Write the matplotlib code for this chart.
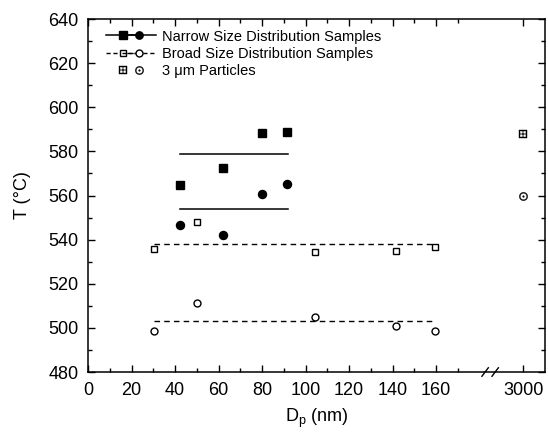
import numpy as np
import matplotlib
matplotlib.use("Agg")
import matplotlib.pyplot as plt
from matplotlib.legend_handler import HandlerTuple
from matplotlib.ticker import FixedLocator

plt.rcParams['font.family'] = ['Liberation Sans', 'DejaVu Sans']
plt.rcParams['mathtext.default'] = 'regular'

# narrow size distribution samples
narrow_d = [42.2, 62.2, 80.1, 91.5]
narrow_sq = [564.8, 572.3, 588.2, 588.8]
narrow_ci = [546.6, 542.2, 560.8, 565.3]
narrow_span = [42.2, 91.7]
narrow_sq_mean = 578.6
narrow_ci_mean = 553.8

# broad size distribution samples
broad_d = [30.2, 50.3, 104.5, 141.5, 159.4]
broad_sq = [535.6, 547.8, 534.5, 534.8, 536.5]
broad_ci = [498.6, 511.4, 504.8, 500.7, 498.4]
broad_span = [30.2, 159.4]
broad_sq_mean = 537.9
broad_ci_mean = 503.0

# 3 um particles
big_d = [3000]
big_sq = [587.7]
big_ci = [559.8]

xticks_major = [0, 20, 40, 60, 80, 100, 120, 140, 160, 3000]
xticks_minor = [10, 30, 50, 70, 90, 110, 130, 150, 170]


def fwd(x):
    x = np.asarray(x, dtype=float)
    return np.piecewise(x, [x <= 185, (x > 185) & (x < 2900), x >= 2900],
                        [lambda v: v,
                         lambda v: 185 + (v - 185) * 5.0 / 2715,
                         lambda v: 190 + (v - 2900) * 0.1])


def inv(y):
    y = np.asarray(y, dtype=float)
    return np.piecewise(y, [y <= 185, (y > 185) & (y < 190), y >= 190],
                        [lambda v: v,
                         lambda v: 185 + (v - 185) * 2715 / 5.0,
                         lambda v: 2900 + (v - 190) * 10.0])


fig = plt.figure(figsize=(5.48, 4.37), dpi=100)
ax = fig.add_axes([0.1606, 0.1487, 0.8339, 0.8078])
ax.set_xscale('function', functions=(fwd, inv))
ax.set_xlim(0, 3100)
ax.set_ylim(480, 640)

ms_f = 5.8
ms_o = 5.0
# narrow
ax.plot(narrow_span, [narrow_sq_mean] * 2, color='black', lw=1.1)
ax.plot(narrow_span, [narrow_ci_mean] * 2, color='black', lw=1.1)
h1, = ax.plot(narrow_d, narrow_sq, 's', color='black', ms=ms_f, ls='none')
h2, = ax.plot(narrow_d, narrow_ci, 'o', color='black', ms=ms_f, ls='none')
# broad
ax.plot(broad_span, [broad_sq_mean] * 2, color='black', lw=1.0, ls=(0, (4, 3)))
ax.plot(broad_span, [broad_ci_mean] * 2, color='black', lw=1.0, ls=(0, (4, 3)))
h3, = ax.plot(broad_d, broad_sq, 's', mfc='white', mec='black', mew=1.0, ms=ms_o, ls='none')
h4, = ax.plot(broad_d, broad_ci, 'o', mfc='white', mec='black', mew=1.0, ms=ms_o, ls='none')
# 3 um
h5, = ax.plot(big_d, big_sq, marker=r'$\boxplus$', color='black', mew=0.3, ms=6, ls='none')
h6, = ax.plot(big_d, big_ci, marker=r'$\odot$', color='black', mew=0.3, ms=6, ls='none')

# legend handles
l1a, = ax.plot([], [], 's-', color='black', ms=ms_f - 0.5, lw=1.1)
l1b, = ax.plot([], [], 'o-', color='black', ms=ms_f - 0.5, lw=1.1)
l2a, = ax.plot([], [], 's', ls=(0, (3, 2)), color='black', mfc='white', ms=ms_o, lw=1.0)
l2b, = ax.plot([], [], 'o', ls=(0, (3, 2)), color='black', mfc='white', ms=ms_o, lw=1.0)
leg = ax.legend([(l1a, l1b), (l2a, l2b), (h5, h6)],
                ['Narrow Size Distribution Samples', 'Broad Size Distribution Samples',
                 '3 \u03bcm Particles'],
                handler_map={tuple: HandlerTuple(ndivide=None, pad=-1.2)},
                loc='upper left', bbox_to_anchor=(0.021, 0.995), frameon=False,
                fontsize=10.5, handlelength=3.4, handletextpad=0.4, labelspacing=0.22,
                borderaxespad=0.2)

ax.xaxis.set_major_locator(FixedLocator(xticks_major))
ax.xaxis.set_minor_locator(FixedLocator(xticks_minor))
ax.set_xticklabels([str(t) for t in xticks_major])
ax.set_yticks(np.arange(480, 641, 20))
ax.set_yticks(np.arange(490, 640, 20), minor=True)
ax.tick_params(which='both', direction='in', top=True, right=True, labelsize=13)
ax.tick_params(which='major', length=5, width=1)
ax.tick_params(which='minor', length=2.8, width=1)
ax.tick_params(axis='x', pad=7.5)
ax.tick_params(axis='y', pad=7)
for s in ax.spines.values():
    s.set_linewidth(1.1)

# axis break marks
for x0 in (0.862, 0.884):
    ax.plot([x0, x0 + 0.014], [-0.012, 0.012], color='black', lw=1.0,
            transform=ax.transAxes, clip_on=False)

ax.set_xlabel('D$_p$ (nm)', fontsize=13, labelpad=5)
ax.set_ylabel('T (\u00b0C)', fontsize=13, labelpad=12)

fig.savefig('out.png', dpi=100)
